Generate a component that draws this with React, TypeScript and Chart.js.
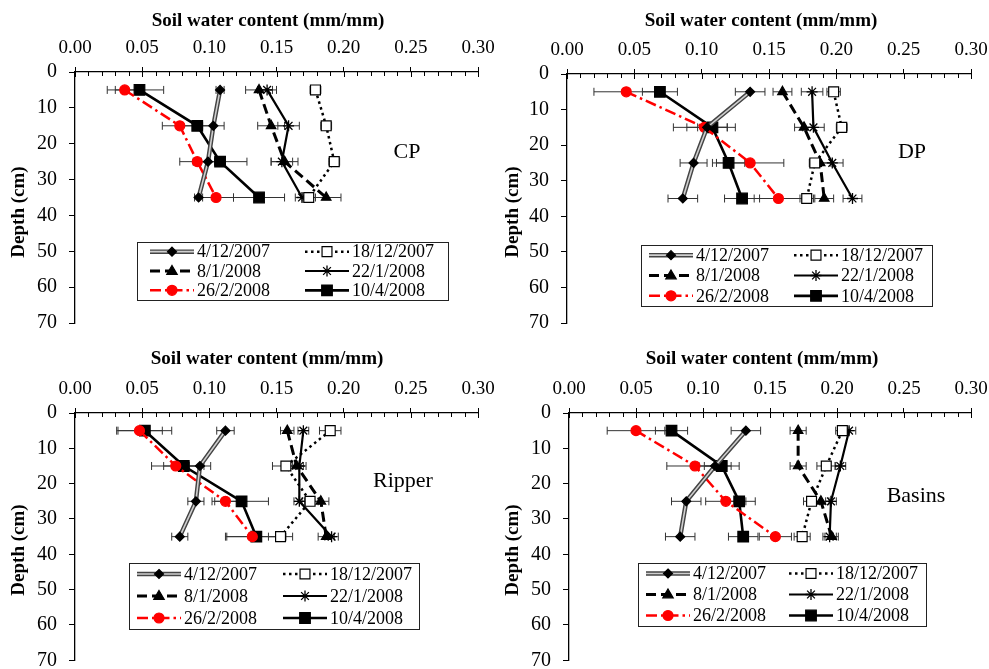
import React, { useEffect, useRef } from 'react';
import { Chart, registerables } from 'chart.js';
Chart.register(...registerables);

const FONT = "'Times New Roman', 'Liberation Serif', serif";

const depths = [5, 15, 25, 35];
const seriesNames = ['4/12/2007', '18/12/2007', '8/1/2008', '22/1/2008', '26/2/2008', '10/4/2008'];
const panelLabels = ['CP', 'DP', 'Ripper', 'Basins'];
const xTitle = 'Soil water content (mm/mm)';
const yTitle = 'Depth (cm)';

// CP
const cpDec4 = [0.108, 0.103, 0.099, 0.092];
const cpDec18 = [0.179, 0.187, 0.193, 0.174];
const cpJan8 = [0.137, 0.146, 0.156, 0.187];
const cpJan22 = [0.143, 0.159, 0.154, 0.169];
const cpFeb26 = [0.037, 0.078, 0.091, 0.105];
const cpApr10 = [0.048, 0.091, 0.108, 0.137];
const cpDec4Err = [0.003, 0.008, 0.005, 0.003];
const cpDec18Err = [0.004, 0.004, 0.004, 0.005];
const cpJan8Err = [0.010, 0.010, 0.010, 0.011];
const cpJan22Err = [0.007, 0.008, 0.008, 0.005];
const cpFeb26Err = [0.013, 0.013, 0.013, 0.013];
const cpApr10Err = [0.018, 0.012, 0.020, 0.019];

// DP
const dpDec4 = [0.136, 0.104, 0.094, 0.086];
const dpDec18 = [0.198, 0.204, 0.184, 0.178];
const dpJan8 = [0.160, 0.176, 0.188, 0.191];
const dpJan22 = [0.182, 0.183, 0.197, 0.212];
const dpFeb26 = [0.044, 0.102, 0.136, 0.157];
const dpApr10 = [0.069, 0.108, 0.120, 0.130];
const dpDec4Err = [0.011, 0.015, 0.010, 0.011];
const dpDec18Err = [0.005, 0.004, 0.004, 0.005];
const dpJan8Err = [0.007, 0.007, 0.008, 0.007];
const dpJan22Err = [0.008, 0.008, 0.008, 0.007];
const dpFeb26Err = [0.024, 0.023, 0.025, 0.018];
const dpApr10Err = [0.013, 0.011, 0.012, 0.013];

// Ripper
const rpDec4 = [0.112, 0.093, 0.090, 0.078];
const rpDec18 = [0.190, 0.157, 0.175, 0.153];
const rpJan8 = [0.158, 0.165, 0.183, 0.187];
const rpJan22 = [0.170, 0.167, 0.167, 0.191];
const rpFeb26 = [0.048, 0.075, 0.112, 0.132];
const rpApr10 = [0.052, 0.081, 0.124, 0.135];
const rpDec4Err = [0.0065, 0.008, 0.006, 0.006];
const rpDec18Err = [0.008, 0.010, 0.006, 0.009];
const rpJan8Err = [0.005, 0.005, 0.006, 0.006];
const rpJan22Err = [0.004, 0.005, 0.004, 0.005];
const rpFeb26Err = [0.017, 0.018, 0.010, 0.020];
const rpApr10Err = [0.020, 0.015, 0.020, 0.022];

// Basins
const bsDec4 = [0.132, 0.109, 0.0875, 0.083];
const bsDec18 = [0.204, 0.192, 0.181, 0.174];
const bsJan8 = [0.171, 0.171, 0.188, 0.196];
const bsJan22 = [0.209, 0.2025, 0.1955, 0.1945];
const bsFeb26 = [0.050, 0.094, 0.117, 0.154];
const bsApr10 = [0.0765, 0.114, 0.127, 0.130];
const bsDec4Err = [0.011, 0.012, 0.011, 0.011];
const bsDec18Err = [0.005, 0.007, 0.006, 0.006];
const bsJan8Err = [0.006, 0.006, 0.006, 0.005];
const bsJan22Err = [0.005, 0.004, 0.004, 0.005];
const bsFeb26Err = [0.0215, 0.021, 0.015, 0.012];
const bsApr10Err = [0.012, 0.013, 0.012, 0.011];

type Style = {
  double?: boolean;
  dash: number[];
  color: string;
  width: number;
  point: string;
  r: number;
  fill: string;
};

const styles: Style[] = [
  { double: true, dash: [], color: '#444', width: 4.5, point: 'diamond', r: 4.5, fill: '#000' },
  { dash: [2.5, 3.5], color: '#000', width: 2.5, point: 'rect', r: 7, fill: '#fff' },
  { dash: [10, 5], color: '#000', width: 3, point: 'triangle', r: 5.5, fill: '#000' },
  { dash: [], color: '#000', width: 2.2, point: 'star', r: 5.5, fill: '#000' },
  { dash: [11, 4, 2.5, 4], color: '#ff0000', width: 2.5, point: 'circle', r: 5, fill: '#ff0000' },
  { dash: [], color: '#000', width: 2.6, point: 'rect', r: 7.5, fill: '#000' },
];

type Panel = {
  label: string;
  values: number[][];
  errors: number[][];
  x: number; y: number; w: number; h: number;
  left: number; top: number; padRight: number; padBottom: number;
  lab: [number, number];
  xt: [number, number];
  yt: [number, number];
  leg: { left: number; top: number; w: number; h: number; c1: number; c2: number };
};

const panels: Panel[] = [
  {
    label: panelLabels[0],
    values: [cpDec4, cpDec18, cpJan8, cpJan22, cpFeb26, cpApr10],
    errors: [cpDec4Err, cpDec18Err, cpJan8Err, cpJan22Err, cpFeb26Err, cpApr10Err],
    x: 0, y: 0, w: 494, h: 334, left: 75, top: 72, padRight: 16, padBottom: 11,
    lab: [407, 152], xt: [268, 21], yt: [19, 212],
    leg: { left: 137, top: 242, w: 311, h: 58, c1: 13, c2: 168 },
  },
  {
    label: panelLabels[1],
    values: [dpDec4, dpDec18, dpJan8, dpJan22, dpFeb26, dpApr10],
    errors: [dpDec4Err, dpDec18Err, dpJan8Err, dpJan22Err, dpFeb26Err, dpApr10Err],
    x: 494, y: 0, w: 495, h: 334, left: 73, top: 74, padRight: 18, padBottom: 11,
    lab: [418, 152], xt: [267, 21], yt: [19, 212],
    leg: { left: 147, top: 245, w: 291, h: 61, c1: 8, c2: 153 },
  },
  {
    label: panelLabels[2],
    values: [rpDec4, rpDec18, rpJan8, rpJan22, rpFeb26, rpApr10],
    errors: [rpDec4Err, rpDec18Err, rpJan8Err, rpJan22Err, rpFeb26Err, rpApr10Err],
    x: 0, y: 334, w: 494, h: 335, left: 75, top: 79, padRight: 16, padBottom: 7,
    lab: [403, 147], xt: [267, 25], yt: [19, 216],
    leg: { left: 129, top: 229, w: 290, h: 66, c1: 8, c2: 154 },
  },
  {
    label: panelLabels[3],
    values: [bsDec4, bsDec18, bsJan8, bsJan22, bsFeb26, bsApr10],
    errors: [bsDec4Err, bsDec18Err, bsJan8Err, bsJan22Err, bsFeb26Err, bsApr10Err],
    x: 494, y: 334, w: 495, h: 335, left: 75, top: 79, padRight: 18, padBottom: 7,
    lab: [422, 162], xt: [268, 25], yt: [19, 216],
    leg: { left: 144, top: 229, w: 288, h: 63, c1: 8, c2: 151 },
  },
];

function chartPointStyle(p: string) {
  if (p === 'diamond') return 'rectRot';
  return p;
}

function buildDatasets(panel: Panel) {
  const ds: any[] = [];
  panel.values.forEach((vals, si) => {
    const st = styles[si];
    const pts = vals.map((v, i) => ({ x: v, y: depths[i] }));
    const pointOpts = {
      pointStyle: chartPointStyle(st.point),
      pointRadius: st.r,
      pointBackgroundColor: st.fill,
      pointBorderColor: st.point === 'circle' ? st.fill : '#000',
      pointBorderWidth: st.point === 'star' ? 1.3 : 1.2,
    };
    if (st.double) {
      ds.push({
        label: seriesNames[si], data: pts, showLine: true,
        borderColor: '#cfcfcf', borderWidth: 1.6, ...pointOpts,
      });
      ds.push({
        label: seriesNames[si] + ' edge', data: pts, showLine: true,
        borderColor: st.color, borderWidth: st.width, pointRadius: 0,
      });
    } else {
      ds.push({
        label: seriesNames[si], data: pts, showLine: true,
        borderColor: st.color, borderWidth: st.width, borderDash: st.dash, ...pointOpts,
      });
    }
  });
  return ds;
}

function drawMarker(ctx: CanvasRenderingContext2D, st: Style, x: number, y: number) {
  const r = st.r;
  ctx.save();
  ctx.setLineDash([]);
  ctx.fillStyle = st.fill;
  ctx.strokeStyle = st.point === 'circle' ? st.fill : '#000';
  ctx.lineWidth = 1.2;
  ctx.beginPath();
  if (st.point === 'diamond') {
    ctx.moveTo(x, y - r); ctx.lineTo(x + r, y); ctx.lineTo(x, y + r); ctx.lineTo(x - r, y); ctx.closePath();
    ctx.fill(); ctx.stroke();
  } else if (st.point === 'rect') {
    const s = r * Math.SQRT1_2;
    ctx.rect(x - s, y - s, 2 * s, 2 * s); ctx.fill(); ctx.stroke();
  } else if (st.point === 'triangle') {
    ctx.moveTo(x, y - r); ctx.lineTo(x + r * 0.95, y + r * 0.6); ctx.lineTo(x - r * 0.95, y + r * 0.6); ctx.closePath();
    ctx.fill(); ctx.stroke();
  } else if (st.point === 'circle') {
    ctx.arc(x, y, r, 0, Math.PI * 2); ctx.fill(); ctx.stroke();
  } else if (st.point === 'star') {
    ctx.lineWidth = 1.3;
    for (let k = 0; k < 4; k++) {
      const a = (k * Math.PI) / 4;
      ctx.moveTo(x - Math.cos(a) * r, y - Math.sin(a) * r);
      ctx.lineTo(x + Math.cos(a) * r, y + Math.sin(a) * r);
    }
    ctx.stroke();
  }
  ctx.restore();
}

function drawSample(ctx: CanvasRenderingContext2D, st: Style, x1: number, x2: number, y: number) {
  ctx.save();
  ctx.beginPath();
  ctx.moveTo(x1, y); ctx.lineTo(x2, y);
  if (st.double) {
    ctx.strokeStyle = st.color; ctx.lineWidth = st.width; ctx.stroke();
    ctx.beginPath(); ctx.moveTo(x1, y); ctx.lineTo(x2, y);
    ctx.strokeStyle = '#cfcfcf'; ctx.lineWidth = 1.6; ctx.stroke();
  } else {
    ctx.setLineDash(st.dash);
    ctx.strokeStyle = st.color; ctx.lineWidth = st.width; ctx.stroke();
  }
  ctx.restore();
  drawMarker(ctx, st, (x1 + x2) / 2, y);
}

function makeExtras(panel: Panel) {
  return {
    id: 'extras',
    beforeDatasetsDraw(chart: any) {
      const { ctx } = chart;
      const xs = chart.scales.x;
      const ys = chart.scales.y;
      ctx.save();
      ctx.strokeStyle = '#333';
      ctx.lineWidth = 1;
      panel.values.forEach((vals, si) => {
        vals.forEach((v, i) => {
          const e = panel.errors[si][i];
          const a = xs.getPixelForValue(v - e);
          const b = xs.getPixelForValue(v + e);
          const py = ys.getPixelForValue(depths[i]);
          ctx.beginPath();
          ctx.moveTo(a, py); ctx.lineTo(b, py);
          ctx.moveTo(a, py - 4); ctx.lineTo(a, py + 4);
          ctx.moveTo(b, py - 4); ctx.lineTo(b, py + 4);
          ctx.stroke();
        });
      });
      ctx.restore();
    },
    afterDraw(chart: any) {
      const { ctx, chartArea } = chart;
      const xs = chart.scales.x;
      ctx.save();
      // inward ticks on top axis
      ctx.strokeStyle = '#000';
      ctx.lineWidth = 1;
      for (let k = 0; k <= 30; k++) {
        const px = Math.round(xs.getPixelForValue(k / 100)) + 0.5;
        ctx.beginPath();
        ctx.moveTo(px, chartArea.top);
        ctx.lineTo(px, chartArea.top + (k % 5 === 0 ? 5 : 4));
        ctx.stroke();
      }
      // titles
      ctx.fillStyle = '#000';
      ctx.textAlign = 'center';
      ctx.textBaseline = 'middle';
      ctx.font = `bold 19px ${FONT}`;
      ctx.fillText(xTitle, panel.xt[0], panel.xt[1]);
      ctx.save();
      ctx.translate(panel.yt[0], panel.yt[1]);
      ctx.rotate(-Math.PI / 2);
      ctx.fillText(yTitle, 0, 0);
      ctx.restore();
      // panel label
      ctx.font = `22px ${FONT}`;
      ctx.fillText(panel.label, panel.lab[0], panel.lab[1]);
      // legend
      const L = panel.leg;
      ctx.fillStyle = '#fff';
      ctx.fillRect(L.left, L.top, L.w, L.h);
      ctx.strokeStyle = '#222';
      ctx.lineWidth = 1;
      ctx.strokeRect(L.left + 0.5, L.top + 0.5, L.w, L.h);
      ctx.font = `18px ${FONT}`;
      ctx.textAlign = 'left';
      seriesNames.forEach((name, si) => {
        const row = Math.floor(si / 2);
        const col = si % 2;
        const ry = L.top + L.h / 6 + (row * L.h) / 3;
        const sx = L.left + (col === 0 ? L.c1 : L.c2);
        drawSample(ctx, styles[si], sx, sx + 44, ry);
        ctx.fillStyle = '#000';
        ctx.fillText(name, sx + 47, ry + 1);
      });
      ctx.restore();
    },
  };
}

function PanelChart({ panel }: { panel: Panel }) {
  const ref = useRef<HTMLCanvasElement>(null);
  useEffect(() => {
    const chart = new Chart(ref.current as HTMLCanvasElement, {
      type: 'scatter',
      data: { datasets: buildDatasets(panel) },
      options: {
        animation: false,
        responsive: false,
        maintainAspectRatio: false,
        devicePixelRatio: 1,
        layout: { padding: { left: 0, top: 0, right: panel.padRight, bottom: panel.padBottom } },
        plugins: { legend: { display: false }, tooltip: { enabled: false } },
        scales: {
          x: {
            type: 'linear',
            position: 'top',
            min: 0,
            max: 0.3,
            afterFit: (s: any) => {
              s.height = panel.top;
              s.paddingLeft = 0; s.paddingRight = 0; s.paddingTop = 0; s.paddingBottom = 0;
            },
            ticks: {
              stepSize: 0.05,
              callback: (v: any) => Number(v).toFixed(2),
              font: { family: FONT, size: 19 },
              color: '#000',
              padding: 8,
              maxRotation: 0,
            },
            grid: { drawOnChartArea: false, tickLength: 5, color: '#000', tickColor: '#000' },
            border: { color: '#000', width: 1.3 },
          },
          y: {
            type: 'linear',
            reverse: true,
            min: 0,
            max: 70,
            afterFit: (s: any) => {
              s.width = panel.left;
              s.paddingLeft = 0; s.paddingRight = 0; s.paddingTop = 0; s.paddingBottom = 0;
            },
            ticks: {
              stepSize: 10,
              font: { family: FONT, size: 20 },
              color: '#000',
              padding: 12,
            },
            grid: { drawOnChartArea: false, tickLength: 6, color: '#000', tickColor: '#000' },
            border: { color: '#000', width: 1.3 },
          },
        },
      } as any,
      plugins: [makeExtras(panel)],
    });
    return () => chart.destroy();
  }, [panel]);
  return (
    <canvas
      ref={ref}
      width={panel.w}
      height={panel.h}
      style={{ position: 'absolute', left: panel.x, top: panel.y, width: panel.w, height: panel.h }}
    />
  );
}

export default function App() {
  return (
    <div style={{ position: 'absolute', left: 0, top: 0, width: 989, height: 669, background: '#fff' }}>
      {panels.map((p, i) => (
        <PanelChart key={i} panel={p} />
      ))}
    </div>
  );
}
